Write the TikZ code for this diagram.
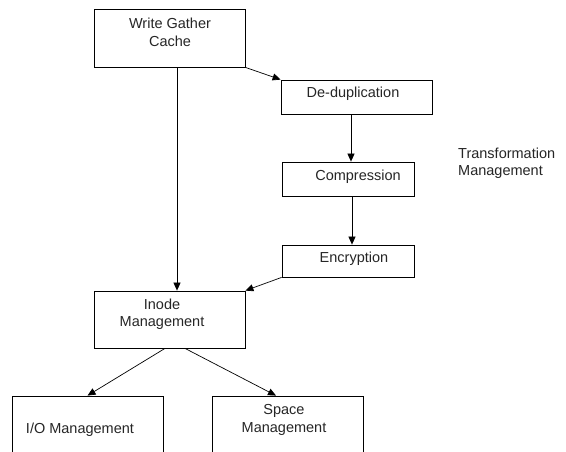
\documentclass[tikz,border=0pt]{standalone}
\usepackage{fontspec}
\setmainfont{Liberation Sans}
\usetikzlibrary{arrows.meta}
\begin{document}
\begin{tikzpicture}[x=1pt,y=-1pt,
  box/.style={draw=black, line width=0.8pt, inner sep=0pt, fill=white},
  txt/.style={inner sep=0pt, align=center, font=\fontsize{14.5}{17.5}\selectfont, text=black!85},
  arr/.style={line width=0.7pt, -{Triangle[length=8pt,width=7pt]}}]
\useasboundingbox (0,0) rectangle (566,452);
\clip (0,0) rectangle (566,452);
\fill[white] (0,0) rectangle (566,452);
% boxes
\node[box, minimum width=151, minimum height=58] (wgc) at (169.5,38) {};
\node[box, minimum width=151, minimum height=34] (dedup) at (356.5,97) {};
\node[box, minimum width=132, minimum height=34] (comp) at (348,179) {};
\node[box, minimum width=132, minimum height=32] (enc) at (348,261) {};
\node[box, minimum width=151, minimum height=57] (inode) at (169.5,319.5) {};
\node[box, minimum width=151, minimum height=80] (io) at (87.5,436) {};
\node[box, minimum width=151, minimum height=80] (space) at (287.5,436) {};
% texts
\node[txt] (wgct) at (170,32.5) {Write Gather\\Cache};
\node[txt] (dedupt) at (353,94) {De-duplication};
\node[txt] (compt) at (358,177) {Compression};
\node[txt] (enct) at (354,259) {Encryption};
\node[txt] (inodet) at (162,314.5) {Inode\\Management};
\node[txt] (iot) at (80,430) {I/O Management};
\node[txt] (spacet) at (284,420) {Space\\Management};
\node[txt, align=left, anchor=west] (tm) at (458,163.5) {Transformation\\Management};
% connectors
\draw[arr] ([xshift=7.5]wgc.south) -- ([xshift=7.5]inode.north);
\draw[arr] (wgc.south east) -- (dedup.north west);
\draw[arr] ([xshift=-5.5]dedup.south) -- ([xshift=3]comp.north);
\draw[arr] ([xshift=4]comp.south) -- ([xshift=4]enc.north);
\draw[arr] (enc.south west) -- (inode.north east);
\draw[arr] ([xshift=-4.5]inode.south) -- (io.north);
\draw[arr] ([xshift=15.5]inode.south) -- ([xshift=-11.5]space.north);
\end{tikzpicture}
\end{document}
